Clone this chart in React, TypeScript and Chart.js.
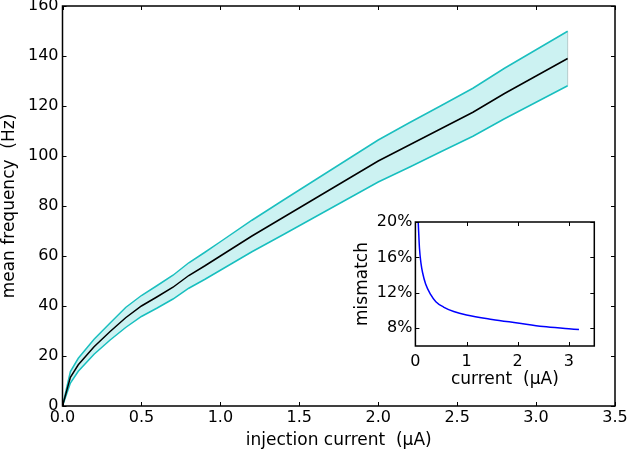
import React, { useEffect, useRef } from 'react';
import { Chart, registerables } from 'chart.js';

Chart.register(...registerables);

// ---- main chart data ----
const currents = [0, 0.05, 0.1, 0.2, 0.3, 0.4, 0.5, 0.6, 0.7, 0.8, 0.9, 1.0, 1.2, 1.4, 1.6, 1.8, 2.0, 2.2, 2.4, 2.6, 2.8, 3.0, 3.2];
const meanFreq = [0, 11.5, 16.5, 23.7, 29.7, 35.3, 40, 43.7, 47.5, 52.2, 56, 60, 68, 75.5, 83, 90.5, 98, 104.5, 111, 117.5, 125, 132, 139];
const upperFreq = [0, 13.8, 19.1, 26.7, 33.1, 39.4, 44.2, 48.2, 52.3, 57.3, 61.4, 65.7, 74.3, 82.4, 90.4, 98.4, 106.4, 113.4, 120.2, 127.1, 135.1, 142.5, 149.9];
const lowerFreq = [0, 9.2, 13.9, 20.7, 26.3, 31.4, 35.8, 39.2, 42.8, 47.1, 50.6, 54.3, 61.7, 68.6, 75.6, 82.6, 89.6, 95.6, 101.8, 107.9, 114.9, 121.5, 128.1];
const xTicks = [0, 0.5, 1.0, 1.5, 2.0, 2.5, 3.0, 3.5];
const yTicks = [0, 20, 40, 60, 80, 100, 120, 140, 160];

// ---- inset data ----
const insetCurrents = [0.055, 0.08, 0.11, 0.14, 0.2, 0.3, 0.4, 0.55, 0.75, 1.0, 1.5, 2.0, 2.5, 3.0, 3.2];
const insetMismatch = [20, 17, 15.3, 14.3, 13, 11.8, 11.0, 10.4, 9.9, 9.5, 9.0, 8.6, 8.2, 7.95, 7.85];
const insetXTicks = [0, 1, 2, 3];
const insetYTicks = [8, 12, 16, 20];

const FONT = "'DejaVu Sans', 'Liberation Sans', sans-serif";
const TICK_FONT = { size: 16 };
const TITLE_FONT = { size: 17, lineHeight: 1.0 };

const frameTicks = {
  id: 'frameTicks',
  afterDraw(chart: any) {
    const { ctx, chartArea: a, scales } = chart;
    const len = 4;
    ctx.save();
    ctx.strokeStyle = '#000';
    ctx.lineWidth = 1;
    const line = (x1: number, y1: number, x2: number, y2: number) => {
      ctx.beginPath();
      ctx.moveTo(x1, y1);
      ctx.lineTo(x2, y2);
      ctx.stroke();
    };
    scales.x.ticks.forEach((t: any) => {
      const px = Math.round(scales.x.getPixelForValue(t.value)) + 0.5;
      line(px, a.bottom, px, a.bottom - len);
      line(px, a.top, px, a.top + len);
    });
    scales.y.ticks.forEach((t: any) => {
      const py = Math.round(scales.y.getPixelForValue(t.value)) + 0.5;
      line(a.left, py, a.left + len, py);
      line(a.right, py, a.right - len, py);
    });
    ctx.lineWidth = 1.5;
    ctx.strokeRect(a.left, a.top, a.right - a.left, a.bottom - a.top);
    ctx.restore();
  },
};

function setTicks(list: number[]) {
  return (scale: any) => {
    scale.ticks = list.map((v) => ({ value: v }));
  };
}

export default function App() {
  const mainRef = useRef<HTMLCanvasElement>(null);
  const insetRef = useRef<HTMLCanvasElement>(null);

  useEffect(() => {
    document.body.style.margin = '0';
    Chart.defaults.font.family = FONT;
    Chart.defaults.color = '#000';

    const last = currents.length - 1;

    const main = new Chart(mainRef.current!, {
      type: 'line',
      data: {
        datasets: [
          {
            data: currents.map((x, i) => ({ x, y: meanFreq[i] })),
            borderColor: '#000',
            borderWidth: 1.5,
            pointRadius: 0,
            fill: false,
          },
          {
            data: currents.map((x, i) => ({ x, y: upperFreq[i] })),
            borderColor: '#1bbfbf',
            borderWidth: 1.5,
            pointRadius: 0,
            fill: '+1',
            backgroundColor: 'rgba(0,191,191,0.2)',
          },
          {
            data: currents.map((x, i) => ({ x, y: lowerFreq[i] })),
            borderColor: '#1bbfbf',
            borderWidth: 1.5,
            pointRadius: 0,
            fill: false,
          },
          {
            // edge of the shaded band at its right end
            data: [
              { x: currents[last], y: lowerFreq[last] },
              { x: currents[last], y: upperFreq[last] },
            ],
            borderColor: 'rgba(150,170,170,0.6)',
            borderWidth: 1,
            pointRadius: 0,
            fill: false,
          },
        ],
      },
      options: {
        responsive: false,
        animation: false,
        layout: { padding: { top: 6, right: 15, bottom: 0, left: 0 } },
        plugins: { legend: { display: false }, tooltip: { enabled: false } },
        scales: {
          x: {
            type: 'linear',
            min: 0,
            max: 3.5,
            grid: { display: false, drawTicks: false },
            border: { display: false },
            afterBuildTicks: setTicks(xTicks),
            ticks: {
              padding: 2,
              maxRotation: 0,
              font: TICK_FONT,
              callback: (v: any) => Number(v).toFixed(1),
            },
            title: {
              display: true,
              text: 'injection current  (μA)',
              font: TITLE_FONT,
              padding: { top: 0, bottom: 0 },
            },
            afterFit: (s: any) => {
              s.height = 43;
              s.paddingLeft = 0;
              s.paddingRight = 0;
            },
          },
          y: {
            type: 'linear',
            min: 0,
            max: 160,
            grid: { display: false, drawTicks: false },
            border: { display: false },
            afterBuildTicks: setTicks(yTicks),
            ticks: { padding: 4, font: TICK_FONT },
            title: {
              display: true,
              text: 'mean frequency  (Hz)',
              font: TITLE_FONT,
              padding: { top: 1.5, bottom: 0 },
            },
            afterFit: (s: any) => {
              s.width = 62.5;
              s.paddingTop = 0;
              s.paddingBottom = 0;
            },
          },
        },
      },
      plugins: [frameTicks],
    } as any);

    const inset = new Chart(insetRef.current!, {
      type: 'line',
      data: {
        datasets: [
          {
            data: insetCurrents.map((x, i) => ({ x, y: insetMismatch[i] })),
            borderColor: '#0000ff',
            borderWidth: 1.5,
            pointRadius: 0,
            cubicInterpolationMode: 'monotone',
            fill: false,
          },
        ],
      },
      options: {
        responsive: false,
        animation: false,
        layout: { padding: { top: 17, right: 10.7, bottom: 7, left: 0 } },
        plugins: { legend: { display: false }, tooltip: { enabled: false } },
        scales: {
          x: {
            type: 'linear',
            min: 0,
            max: 3.5,
            grid: { display: false, drawTicks: false },
            border: { display: false },
            afterBuildTicks: setTicks(insetXTicks),
            ticks: { padding: 6, maxRotation: 0, font: TICK_FONT },
            title: {
              display: true,
              text: 'current  (μA)',
              font: TITLE_FONT,
              padding: { top: 0, bottom: 0 },
            },
            afterFit: (s: any) => {
              s.height = 42;
              s.paddingLeft = 0;
              s.paddingRight = 0;
            },
          },
          y: {
            type: 'linear',
            min: 6,
            max: 20,
            grid: { display: false, drawTicks: false },
            border: { display: false },
            afterBuildTicks: setTicks(insetYTicks),
            ticks: { padding: 3, font: TICK_FONT, callback: (v: any) => v + '%' },
            title: {
              display: true,
              text: 'mismatch',
              font: TITLE_FONT,
              padding: { top: 4, bottom: 0 },
            },
            afterFit: (s: any) => {
              s.width = 65.4;
              s.paddingTop = 0;
              s.paddingBottom = 0;
            },
          },
        },
      },
      plugins: [frameTicks],
    } as any);

    return () => {
      main.destroy();
      inset.destroy();
    };
  }, []);

  return (
    <div style={{ position: 'relative', width: 630, height: 449, background: '#fff' }}>
      <canvas ref={mainRef} width={630} height={449} style={{ position: 'absolute', left: 0, top: 0 }} />
      <canvas ref={insetRef} width={255} height={190} style={{ position: 'absolute', left: 350, top: 205 }} />
    </div>
  );
}
